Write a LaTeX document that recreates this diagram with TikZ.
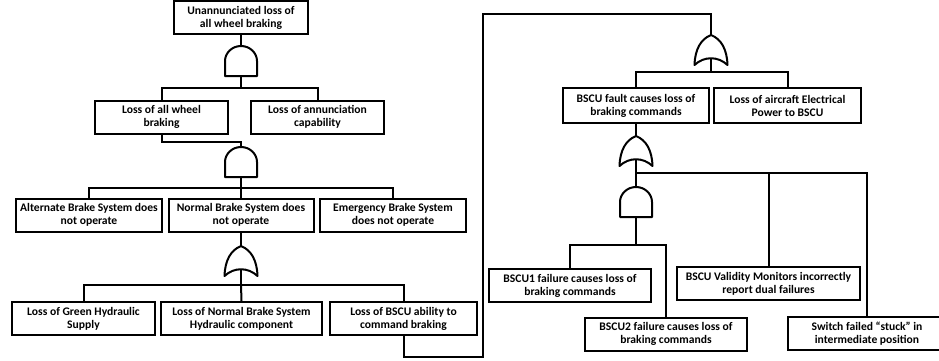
\documentclass[tikz,border=0pt]{standalone}
\usepackage{fontspec}
\setmainfont{Carlito}

\tikzset{
  evt/.style={draw, line width=2pt, align=center, inner xsep=0.5pt, inner ysep=1pt,
    minimum height=33pt, font=\bfseries\fontsize{11.6}{13}\selectfont},
  wire/.style={line width=2pt},
  gate/.style={line width=2pt, line join=round},
  andgate/.pic={
    \draw[gate] (-16,30) -- (-16,15) .. controls (-16,7) and (-9,0) .. (0,0)
      .. controls (9,0) and (16,7) .. (16,15) -- (16,30) -- cycle;
    \coordinate (-in) at (0,0);
    \coordinate (-out) at (0,30);
  },
  orgate/.pic={
    \draw[gate] (0,0) .. controls (10,4) and (16,14) .. (16.5,30)
      .. controls (7,21) and (-7,21) .. (-16.5,30)
      .. controls (-16,14) and (-10,4) .. (0,0) -- cycle;
    \coordinate (-in) at (0,0);
    \coordinate (-out) at (0,23);
  }
}

\begin{document}
\begin{tikzpicture}[x=1pt, y=-1pt]
    \useasboundingbox (0,0) rectangle (939,360);

    \node[evt, minimum width=134pt] (top) at (241,17.5) {Unannunciated loss of\\all wheel braking};
    \pic (g1) at (241,46) {andgate};
    \coordinate (b1) at (241,88);
    \node[evt, minimum width=133pt] (lwb) at (161.5,117) {Loss of all wheel\\braking};
    \node[evt, minimum width=133pt] (lac) at (317.5,117) {Loss of annunciation\\capability};

    \pic (g2) at (241,147) {andgate};
    \coordinate (b2) at (241,188);
    \node[evt, minimum width=146pt] (alt) at (89,215) {Alternate Brake System does\\not operate};
    \node[evt, minimum width=145pt] (nbs) at (241,215) {Normal Brake System does\\not operate};
    \node[evt, minimum width=146pt] (ebs) at (393,215) {Emergency Brake System\\does not operate};

    \pic (g3) at (241,246) {orgate};
    \coordinate (b3) at (241,285);
    \node[evt, minimum width=143pt] (grn) at (83.5,318.5) {Loss of Green Hydraulic\\Supply};
    \node[evt, minimum width=161pt] (hyd) at (241.5,318.5) {Loss of Normal Brake System\\Hydraulic component};
    \node[evt, minimum width=147pt] (abl) at (403.5,318.5) {Loss of BSCU ability to\\command braking};

    \coordinate (loopA) at (483,357);
    \coordinate (loopB) at (483,14);

    \pic (g4) at (711,35) {orgate};
    \coordinate (b4) at (711,72);
    \node[evt, minimum width=146pt, minimum height=35pt] (flt) at (636,105.5) {BSCU fault causes loss of\\braking commands};
    \node[evt, minimum width=147pt, minimum height=35pt] (pwr) at (787.5,105.5) {Loss of aircraft Electrical\\Power to BSCU};

    \pic (g5) at (636,136) {orgate};
    \coordinate (b5) at (636,173);
    \pic (g6) at (636,187) {andgate};
    \coordinate (b6) at (636,245);
    \node[evt, minimum width=162pt] (u1) at (570,285.5) {BSCU1 failure causes loss of\\braking commands};
    \node[evt, minimum width=162pt] (u2) at (666,334) {BSCU2 failure causes loss of\\braking commands};
    \node[evt, minimum width=183pt] (mon) at (768.5,283.5) {BSCU Validity Monitors incorrectly\\report dual failures};
    \node[evt, minimum width=158pt] (sw) at (867,333.5) {Switch failed “stuck” in\\intermediate position};

    \draw[wire] (top) -- (g1-in);
    \draw[wire] (g1-out) -- (b1);
    \draw[wire] (lwb.north) |- (b1) -| (lac.north);
    \draw[wire] (lwb.south) -- ++(0,7) -| (g2-in);
    \draw[wire] (g2-out) -- (b2);
    \draw[wire] (alt.north) |- (b2) -| (ebs.north);
    \draw[wire] (b2) -- (nbs.north);
    \draw[wire] (nbs.south) -- (g3-in);
    \draw[wire] (g3-out) -- (b3);
    \draw[wire] (grn.north) |- (b3) -| (abl.north);
    \draw[wire] (b3) -- (hyd.north);
    \draw[wire] (abl.south) |- (loopA) -- (loopB) -| (g4-in);
    \draw[wire] (g4-out) -- (b4);
    \draw[wire] (flt.north) |- (b4) -| (pwr.north);
    \draw[wire] (flt.south) -- (g5-in);
    \draw[wire] (g5-out) -- (g6-in);
    \draw[wire] (b5) -| (mon.north);
    \draw[wire] (b5) -| (sw.north);
    \draw[wire] (g6-out) -- (b6);
    \draw[wire] (u1.north) |- (b6) -| (u2.north);
\end{tikzpicture}
\end{document}
